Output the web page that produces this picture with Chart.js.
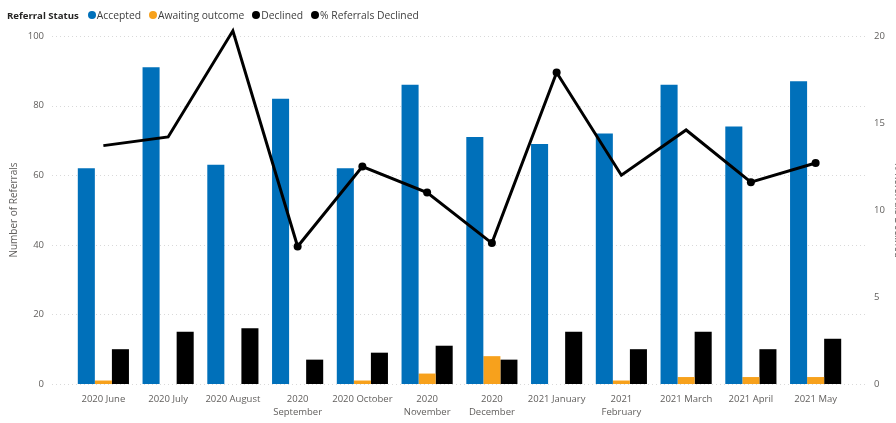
<!DOCTYPE html>
<html>
<head>
<meta charset="utf-8">
<script src="https://cdn.jsdelivr.net/npm/chart.js@4.4.1/dist/chart.umd.min.js"></script>
<style>
  html, body { margin: 0; padding: 0; background: #fff; overflow: hidden; }
  #wrap { position: relative; width: 908px; height: 423px; }
  #legend {
    position: absolute; left: 7px; top: 7px; height: 16px;
    display: flex; align-items: center; white-space: nowrap;
    font-family: "Open Sans", sans-serif; font-size: 10.3px; color: #404040;
  }
  #legend .title { font-weight: bold; font-size: 9.6px; color: #252423; margin-right: 9px; }
  #legend .item { display: flex; align-items: center; margin-right: 8px; }
  #legend .dot { width: 8px; height: 8px; border-radius: 50%; margin-right: 1px; }
</style>
</head>
<body>
<div id="wrap">
  <canvas id="chart" width="908" height="423"></canvas>
  <div id="legend"></div>
</div>
<script>
// Monthly referral counts by status, with the share declined
const categories = ['2020 June', '2020 July', '2020 August', ['2020', 'September'], '2020 October',
  ['2020', 'November'], ['2020', 'December'], '2021 January', ['2021', 'February'],
  '2021 March', '2021 April', '2021 May'];
const accepted = [62, 91, 63, 82, 62, 86, 71, 69, 72, 86, 74, 87];
const awaitingOutcome = [1, 0, 0, 0, 1, 3, 8, 0, 1, 2, 2, 2];
const declined = [10, 15, 16, 7, 9, 11, 7, 15, 10, 15, 10, 13];
const pctDeclined = [13.7, 14.2, 20.3, 7.9, 12.5, 11.0, 8.1, 17.9, 12.0, 14.6, 11.6, 12.7];
const countTicks = [0, 20, 40, 60, 80, 100];
const pctTicks = [0, 5, 10, 15, 20];

const FONT = '"Open Sans", sans-serif';
const TICK_COLOR = '#605E5C';
const tickFont = { family: FONT, size: 9.5, lineHeight: 1.37 };

// Dotted horizontal gridlines for the count axis, running a little past the plot edges
const dottedGrid = {
  id: 'dottedGrid',
  beforeDatasetsDraw(chart) {
    const { ctx, chartArea, scales } = chart;
    ctx.save();
    ctx.strokeStyle = '#d9d9d9';
    ctx.lineWidth = 1;
    ctx.setLineDash([1, 3]);
    scales.y.ticks.forEach(t => {
      const y = Math.round(scales.y.getPixelForValue(t.value)) + 0.5;
      ctx.beginPath();
      ctx.moveTo(chartArea.left - 19, y);
      ctx.lineTo(chartArea.right + 19, y);
      ctx.stroke();
    });
    ctx.restore();
  }
};

const chart = new Chart(document.getElementById('chart'), {
  type: 'bar',
  data: {
    labels: categories,
    datasets: [
      { type: 'line', label: '% Referrals Declined', data: pctDeclined, yAxisID: 'y1',
        borderColor: '#000', backgroundColor: '#000', borderWidth: 3,
        pointRadius: [0, 0, 0, 4, 4, 4, 4, 4, 0, 0, 4, 4], pointBackgroundColor: '#000',
        pointBorderWidth: 0, tension: 0, clip: false, order: 0 },
      { label: 'Accepted', data: accepted, backgroundColor: '#0070BA', yAxisID: 'y', order: 1 },
      { label: 'Awaiting outcome', data: awaitingOutcome, backgroundColor: '#F7A11C', yAxisID: 'y', order: 1 },
      { label: 'Declined', data: declined, backgroundColor: '#000000', yAxisID: 'y', order: 1 }
    ]
  },
  options: {
    responsive: false,
    animation: false,
    layout: { padding: { top: 36, bottom: 0, left: 0, right: 0 } },
    datasets: { bar: { categoryPercentage: 0.79, barPercentage: 1.0, borderWidth: 0 } },
    plugins: { legend: { display: false }, tooltip: { enabled: false } },
    scales: {
      x: {
        grid: { display: false, drawTicks: false }, border: { display: false },
        ticks: { color: TICK_COLOR, font: tickFont, padding: 9, maxRotation: 0, autoSkip: false },
        afterFit(s) { s.height = 39; }
      },
      y: {
        position: 'left', min: 0, max: 100,
        afterBuildTicks(s) { s.ticks = countTicks.map(v => ({ value: v })); },
        grid: { display: false, drawTicks: false }, border: { display: false },
        ticks: { color: TICK_COLOR, font: tickFont, padding: 27 },
        title: { display: true, text: 'Number of Referrals', color: TICK_COLOR,
                 font: { family: FONT, size: 10 }, padding: { top: 8, bottom: 0 } },
        afterFit(s) { s.width = 71; }
      },
      y1: {
        position: 'right', min: 0, max: 20,
        afterBuildTicks(s) { s.ticks = pctTicks.map(v => ({ value: v })); },
        grid: { display: false, drawTicks: false, drawOnChartArea: false }, border: { display: false },
        ticks: { color: TICK_COLOR, font: tickFont, padding: 26 },
        title: { display: true, text: '% Referrals Declined', color: TICK_COLOR,
                 font: { family: FONT, size: 10 }, padding: { top: 4, bottom: 0 } },
        afterFit(s) { s.width = 60; }
      }
    }
  },
  plugins: [dottedGrid]
});

// Legend row built from the chart's own datasets
const legend = document.getElementById('legend');
const title = document.createElement('span');
title.className = 'title';
title.textContent = 'Referral Status';
legend.appendChild(title);
['Accepted', 'Awaiting outcome', 'Declined', '% Referrals Declined'].forEach(name => {
  const ds = chart.data.datasets.find(d => d.label === name);
  const item = document.createElement('span');
  item.className = 'item';
  const dot = document.createElement('span');
  dot.className = 'dot';
  dot.style.background = ds.backgroundColor;
  const txt = document.createElement('span');
  txt.textContent = name;
  item.appendChild(dot);
  item.appendChild(txt);
  legend.appendChild(item);
});
</script>
</body>
</html>
